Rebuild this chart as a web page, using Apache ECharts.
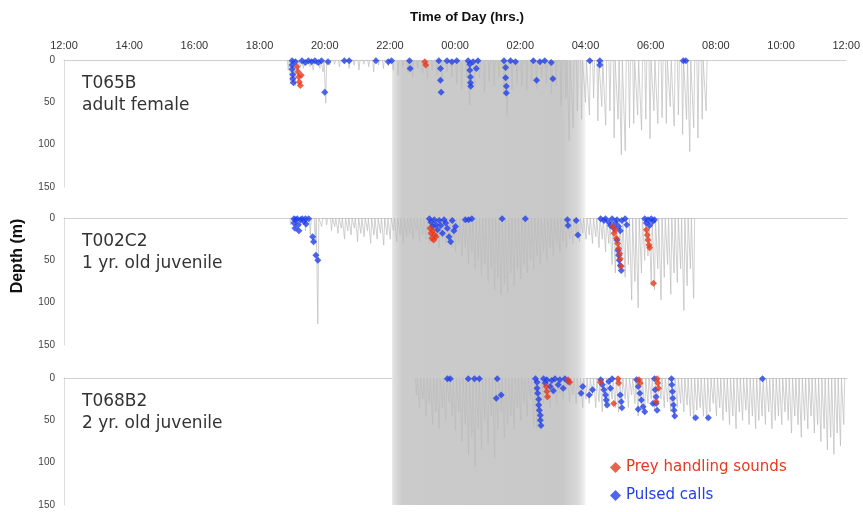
<!DOCTYPE html>
<html><head><meta charset="utf-8">
<script src="https://cdn.jsdelivr.net/npm/echarts@6/dist/echarts.min.js"></script>
<style>html,body{margin:0;padding:0;background:#fff}#c{width:863px;height:512px}</style>
</head><body><div id="c"></div>
<script>
// hours after 12:00 (noon) on x, depth (m) on y
const timeLabels = ['12:00','14:00','16:00','18:00','20:00','22:00','00:00','02:00','04:00','06:00','08:00','10:00','12:00'];
const depthTicks = [0, 50, 100, 150];
const nightRange = [10.06, 15.98];
const panelIds = ['T065B', 'T002C2', 'T068B2'];
const panelDescs = ['adult female', '1 yr. old juvenile', '2 yr. old juvenile'];
const seriesNames = ['Prey handling sounds', 'Pulsed calls'];

// dive maxima [hour, depth]
const dives1 = [[6.88,12],[6.95,28],[7.02,22],[7.1,30],[7.18,18],[7.26,8],[7.35,10],[7.45,6],[7.55,8],[7.65,12],[7.75,6],[7.85,10],[7.95,14],[8.03,51],[8.15,6],
[8.3,5],[8.45,8],[8.6,4],[8.75,10],[8.9,6],[9.05,12],[9.2,5],[9.35,8],[9.5,14],[9.65,6],[9.8,10],[9.95,7],
[10.1,12],[10.25,18],[10.4,8],[10.55,15],[10.7,20],[10.85,10],[11.0,16],[11.15,22],[11.3,12],[11.45,18],[11.6,25],[11.75,14],[11.9,20],
[12.05,28],[12.2,35],[12.35,20],[12.45,53],[12.6,30],[12.75,22],[12.9,38],[13.05,25],[13.2,30],[13.35,20],[13.5,40],[13.6,65],[13.75,35],[13.9,28],
[14.05,30],[14.2,36],[14.35,25],[14.5,34],[14.65,22],[14.8,28],[14.95,40],[15.1,30],[15.25,55],[15.4,45],[15.5,95],[15.62,80],[15.75,60],[15.88,70],
[16.0,50],[16.12,65],[16.25,45],[16.38,72],[16.5,55],[16.62,77],[16.75,60],[16.88,92],[17.0,70],[17.1,112],[17.22,107],[17.35,80],[17.48,75],[17.6,65],[17.72,83],[17.85,70],[17.98,93],[18.1,60],[18.22,75],[18.35,68],[18.48,75],[18.6,55],[18.72,78],[18.85,65],[18.98,88],[19.1,70],[19.2,108],[19.32,80],[19.45,92],[19.58,70],[19.7,60]];
const calls1 = [[7.0,1],[7.0,6],[7.0,11],[7.02,17],[7.02,22],[7.04,27],[7.1,2],[7.3,1],[7.4,3],[7.5,1],[7.6,2],[7.7,1],[7.8,3],[7.9,1],[8.0,38],[8.1,2],
[8.6,1],[8.75,1],[9.57,1],[9.95,2],[10.05,1],[10.6,1],[10.62,10],[11.5,1],[11.55,10],[11.55,24],[11.57,38],[11.75,1],[11.9,2],[12.05,1],
[12.4,1],[12.45,5],[12.45,12],[12.47,20],[12.47,27],[12.48,31],[12.55,2],[12.65,10],[12.7,1],
[13.5,1],[13.55,9],[13.55,21],[13.57,31],[13.57,39],[13.7,1],[13.85,2],
[14.4,1],[14.5,24],[14.6,2],[14.75,1],[14.95,3],[15.0,22],[16.13,1],[16.44,6],[16.44,1],[19.0,1],[19.08,1]];
const prey1 = [[7.15,8],[7.18,14],[7.2,20],[7.22,26],[7.25,30],[7.28,18],[11.07,2],[11.1,6]];

const dives2 = [[6.95,8],[7.1,12],[7.25,10],[7.4,15],[7.55,20],[7.7,30],[7.78,125],[7.9,10],[8.05,8],[8.2,15],[8.3,10],[8.4,18],[8.5,12],[8.6,25],[8.7,15],[8.8,20],[8.9,12],[9.0,28],[9.1,18],[9.2,22],[9.3,15],[9.4,30],[9.5,20],[9.6,25],[9.7,18],[9.8,32],[9.9,20],
[10.0,25],[10.1,15],[10.2,28],[10.3,20],[10.4,30],[10.5,22],[10.6,18],[10.7,25],[10.8,15],[10.9,28],[11.0,20],[11.1,25],[11.2,30],[11.3,22],[11.4,28],[11.5,35],[11.6,25],[11.7,30],[11.8,20],[11.9,35],
[12.0,40],[12.1,30],[12.2,45],[12.3,35],[12.4,55],[12.5,40],[12.6,60],[12.7,50],[12.8,68],[12.9,55],[13.0,75],[13.1,60],[13.2,85],[13.3,70],[13.4,90],[13.5,78],[13.6,88],[13.7,65],[13.8,80],[13.9,60],
[14.0,72],[14.1,55],[14.2,65],[14.3,50],[14.4,60],[14.5,45],[14.6,55],[14.7,40],[14.8,50],[14.9,35],[15.0,45],[15.1,30],[15.2,40],[15.3,28],[15.4,35],[15.5,25],[15.6,30],[15.7,20],[15.8,28],[15.9,18],
[16.0,25],[16.1,20],[16.2,30],[16.3,22],[16.4,35],[16.5,25],[16.6,40],[16.7,30],[16.8,55],[16.9,65],[17.0,60],[17.1,45],[17.2,70],[17.3,55],[17.4,97],[17.5,75],[17.6,106],[17.7,65],[17.8,50],[17.9,45],
[18.0,80],[18.1,85],[18.2,60],[18.3,97],[18.4,70],[18.5,55],[18.6,90],[18.7,65],[18.8,76],[18.9,60],[19.0,109],[19.1,80],[19.2,60],[19.3,95]];
const calls2 = [[7.05,1],[7.05,6],[7.08,12],[7.1,2],[7.15,1],[7.18,8],[7.2,15],[7.25,2],[7.3,1],[7.35,4],[7.4,1],[7.42,7],[7.5,1],
[7.62,22],[7.65,28],[7.72,44],[7.78,50],
[11.2,1],[11.25,5],[11.3,10],[11.35,2],[11.4,8],[11.45,14],[11.5,3],[11.55,9],[11.6,18],[11.65,2],[11.7,6],[11.75,12],[11.8,22],[11.85,28],[11.9,3],[11.95,15],[12.0,10],
[12.3,2],[12.4,2],[12.5,1],[13.43,1],[14.14,1],[15.43,2],[15.45,9],[15.7,3],[15.75,20],
[16.45,1],[16.55,3],[16.6,1],[16.7,5],[16.75,9],[16.8,1],[16.85,12],[16.9,6],[16.95,2],[17.0,10],[17.05,15],[17.1,3],[17.2,1],[17.25,8],
[16.95,26],[16.98,38],[17.0,44],[17.02,50],[17.05,56],[17.08,62],
[17.8,1],[17.85,6],[17.9,2],[17.95,9],[18.0,1],[18.05,4],[18.1,2]];
const prey2 = [[11.22,12],[11.25,18],[11.28,24],[11.3,15],[11.33,26],[11.36,20],[11.4,22],
[16.82,10],[16.86,18],[16.9,14],[16.93,24],[16.97,30],[17.0,36],[17.03,42],[17.05,48],[17.08,57],
[17.85,14],[17.88,20],[17.9,26],[17.93,32],[17.95,35],[18.07,77]];

const dives3 = [[10.8,20],[10.9,35],[11.0,25],[11.1,45],[11.2,30],[11.3,55],[11.4,40],[11.5,60],[11.6,35],[11.7,50],[11.8,28],[11.9,45],
[12.0,62],[12.1,40],[12.2,75],[12.3,55],[12.4,90],[12.5,70],[12.6,105],[12.7,60],[12.8,85],[12.9,50],[13.0,78],[13.1,45],[13.2,95],[13.3,60],[13.4,40],[13.5,70],[13.6,55],[13.7,45],[13.8,60],[13.9,35],
[14.0,50],[14.1,30],[14.2,45],[14.3,25],[14.4,58],[14.5,60],[14.6,40],[14.7,30],[14.8,25],[14.9,35],[15.0,20],[15.1,30],[15.2,18],[15.3,25],[15.4,15],[15.5,28],[15.6,20],[15.7,30],[15.8,22],[15.9,35],
[16.0,25],[16.1,30],[16.2,20],[16.3,35],[16.4,28],[16.5,40],[16.6,35],[16.7,30],[16.8,25],[16.9,35],[17.0,40],[17.1,30],[17.2,25],[17.3,35],[17.4,20],[17.5,30],[17.6,45],[17.7,35],[17.8,42],[17.9,30],
[18.0,25],[18.1,38],[18.2,30],[18.3,25],[18.4,35],[18.5,28],[18.6,40],[18.7,48],[18.8,35],[18.9,30],[19.0,40],[19.1,32],[19.2,45],[19.3,50],[19.4,38],[19.5,35],[19.6,45],[19.7,50],[19.8,40],[19.9,30],
[20.0,45],[20.1,35],[20.2,50],[20.3,40],[20.4,55],[20.5,45],[20.6,60],[20.7,40],[20.8,50],[20.9,38],[21.0,55],[21.1,45],[21.2,60],[21.3,50],[21.4,45],[21.5,55],[21.6,40],[21.7,60],[21.8,50],[21.9,45],
[22.0,55],[22.1,40],[22.2,50],[22.3,65],[22.4,45],[22.5,55],[22.6,70],[22.7,50],[22.8,60],[22.9,45],[23.0,65],[23.1,55],[23.2,75],[23.3,60],[23.4,85],[23.5,70],[23.6,90],[23.7,65],[23.8,80],[23.9,55]];
const calls3 = [[11.75,1],[11.84,1],[12.39,1],[12.58,1],[12.73,1],[13.28,1],[13.25,24],[13.4,20],
[14.45,1],[14.5,5],[14.5,12],[14.52,18],[14.55,25],[14.55,32],[14.57,38],[14.6,44],[14.6,50],[14.62,56],
[14.7,1],[14.75,6],[14.8,2],[14.9,10],[14.95,3],[15.0,15],[15.05,1],[15.15,8],[15.2,2],[15.3,12],[15.35,1],[15.45,4],
[15.85,18],[15.9,10],[16.1,20],[16.2,14],
[16.45,2],[16.5,8],[16.55,14],[16.6,20],[16.62,26],[16.65,32],[16.7,4],[16.75,12],[16.8,1],
[17.05,20],[17.08,28],[17.1,35],
[17.55,2],[17.6,10],[17.65,18],[17.7,26],[17.75,34],[17.8,40],[17.6,37],
[18.1,1],[18.12,14],[18.15,22],[18.15,30],[18.18,38],[18.05,30],
[18.62,1],[18.63,8],[18.65,16],[18.66,24],[18.68,32],[18.7,38],[18.72,45],
[19.36,47],[19.75,47],[21.41,1]];
const prey3 = [[14.78,10],[14.8,16],[14.82,22],[15.45,2],[15.5,5],[16.44,5],[16.98,1],[17.0,6],[16.85,30],[17.62,2],[17.66,6],[18.18,1],[18.2,6],[18.22,12],[18.15,28]];

const divesAll = [dives1, dives2, dives3];
const callsAll = [calls1, calls2, calls3];
const preyAll = [prey1, prey2, prey3];

const RED = '#e8391d', BLUE = '#2040e8';
const gridTops = [60, 218, 378];
const gridH = 127;
const L = 64, R = 16;

function profile(dives) {
  const out = [];
  dives.forEach(([t, d]) => { out.push([t - 0.03, 0], [t, d], [t + 0.03, 0]); });
  return out;
}

const grids = [{left: L, right: R, top: 60, bottom: 7}];
const xAxes = [{gridIndex: 0, type: 'value', min: 0, max: 24, show: false}];
const yAxes = [{gridIndex: 0, type: 'value', min: 0, max: 1, show: false}];
const series = [{
  type: 'line', xAxisIndex: 0, yAxisIndex: 0, data: [[0, 0]], symbol: 'none',
  lineStyle: {opacity: 0}, silent: true, z: 0,
  markArea: {
    silent: true,
    itemStyle: {
      color: {type: 'linear', x: 0, y: 0, x2: 1, y2: 0, colorStops: [
        {offset: 0, color: '#e4e4e4'}, {offset: 0.05, color: '#cbcbcb'},
        {offset: 0.88, color: '#c8c8c8'}, {offset: 0.96, color: '#d8d8d8'}, {offset: 1, color: '#f2f2f2'}]}
    },
    data: [[{xAxis: nightRange[0]}, {xAxis: nightRange[1]}]]
  }
}];

const graphics = [];
for (let p = 0; p < 3; p++) {
  const gi = p + 1;
  grids.push({left: L, right: R, top: gridTops[p], height: gridH});
  xAxes.push({
    gridIndex: gi, type: 'value', min: 0, max: 24, interval: 2, position: 'top',
    axisLine: {show: true, lineStyle: {color: '#cfcfcf', width: 1}},
    axisTick: {show: false}, splitLine: {show: false},
    axisLabel: {
      show: p === 0, margin: 9, fontSize: 11, color: '#333',
      fontFamily: "'Liberation Sans Narrow', 'Liberation Sans', Arial",
      formatter: v => timeLabels[Math.round(v / 2)]
    }
  });
  yAxes.push({
    gridIndex: gi, type: 'value', inverse: true, min: depthTicks[0], max: depthTicks[depthTicks.length - 1], interval: 50,
    axisLine: {show: true, lineStyle: {color: '#dcdcdc', width: 1}},
    axisTick: {show: false}, splitLine: {show: false},
    axisLabel: {margin: 9, fontSize: 10, color: '#444', fontFamily: "'Liberation Sans', Arial"}
  });
  series.push({
    type: 'line', xAxisIndex: gi, yAxisIndex: gi, data: profile(divesAll[p]),
    symbol: 'none', lineStyle: {color: '#bcbcbc', width: 0.7}, silent: true, z: 2, animation: false
  });
  series.push({
    name: seriesNames[1], type: 'scatter', xAxisIndex: gi, yAxisIndex: gi, data: callsAll[p],
    symbol: 'diamond', symbolSize: 7, itemStyle: {color: BLUE}, z: 3
  });
  series.push({
    name: seriesNames[0], type: 'scatter', xAxisIndex: gi, yAxisIndex: gi, data: preyAll[p],
    symbol: 'diamond', symbolSize: 7, itemStyle: {color: RED}, z: 4
  });
  graphics.push({
    type: 'text', left: 82, top: gridTops[p] + 13, z: 10,
    style: {text: panelIds[p] + '\n' + panelDescs[p], fontSize: 17, lineHeight: 22,
      fontFamily: "'DejaVu Sans', sans-serif", fill: '#333'}
  });
}
graphics.push({
  type: 'text', x: 467, y: 17, z: 10,
  style: {text: 'Time of Day (hrs.)', fontSize: 13.5, fontWeight: 'bold', fill: '#111',
    fontFamily: "'Liberation Sans', Arial", align: 'center', verticalAlign: 'middle'}
});
graphics.push({
  type: 'text', x: 18, y: 256, rotation: Math.PI / 2, z: 10,
  style: {text: 'Depth (m)', fontSize: 16, fontWeight: 'bold', fill: '#111',
    fontFamily: "'Liberation Sans', Arial", align: 'center', verticalAlign: 'middle'}
});

const chart = echarts.init(document.getElementById('c'), null, {renderer: 'canvas'});
chart.setOption({
  animation: false,
  backgroundColor: '#fff',
  grid: grids, xAxis: xAxes, yAxis: yAxes, series: series, graphic: graphics,
  legend: {
    orient: 'vertical', left: 605, top: 455, itemGap: 13, itemWidth: 11, itemHeight: 11,
    icon: 'diamond',
    textStyle: {fontSize: 15, fontFamily: "'DejaVu Sans', sans-serif"},
    data: [
      {name: seriesNames[0], itemStyle: {color: RED}, textStyle: {color: RED}},
      {name: seriesNames[1], itemStyle: {color: BLUE}, textStyle: {color: BLUE}}
    ],
    selectedMode: false
  }
});
</script></body></html>
